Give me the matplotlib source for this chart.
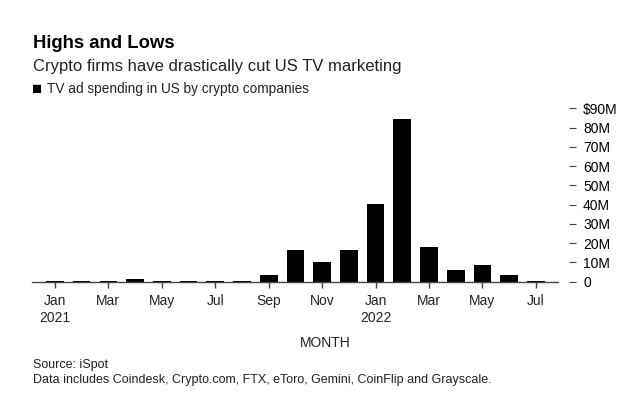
import numpy as np
import matplotlib.pyplot as plt

plt.rcParams['font.family'] = ['Liberation Sans', 'DejaVu Sans']

# monthly TV ad spending, Jan 2021 .. Jul 2022, in $M
months = ['Jan', 'Feb', 'Mar', 'Apr', 'May', 'Jun', 'Jul', 'Aug', 'Sep', 'Oct', 'Nov', 'Dec',
          'Jan', 'Feb', 'Mar', 'Apr', 'May', 'Jun', 'Jul']
years = [2021] * 12 + [2022] * 7
spending = [0.3, 0.3, 0.3, 1.5, 0.3, 0.3, 0.3, 0.4, 3.5, 16.3, 10.4, 16.3,
            40.6, 84.3, 17.8, 6.1, 8.7, 3.5, 0.3]
y_ticks = [0, 10, 20, 30, 40, 50, 60, 70, 80, 90]
y_labels = ['0', '10M', '20M', '30M', '40M', '50M', '60M', '70M', '80M', '$90M']

fig = plt.figure(figsize=(6.4, 4.03), dpi=100)
ax = fig.add_axes([0.0495, 0.301, 0.8225, 0.43])

x = np.arange(len(spending))
ax.bar(x, spending, width=0.66, color='black', zorder=2)

ax.set_xlim(-0.87, 18.83)
ax.set_ylim(0, 90)

# x ticks every other month
xt = x[::2]
xl = []
for i in xt:
    if months[i] == 'Jan':
        xl.append(months[i] + '\n' + str(years[i]))
    else:
        xl.append(months[i])
ax.set_xticks(xt)
ax.set_xticklabels(xl, fontsize=10, color='#222222', linespacing=1.3)
ax.tick_params(axis='x', length=4, width=1, color='#444444', pad=5)

ax.yaxis.tick_right()
ax.set_yticks(y_ticks)
ax.set_yticklabels(y_labels, fontsize=10, color='#222222')
ax.spines['right'].set_position(('outward', 8))
ax.tick_params(axis='y', length=5, width=0.8, color='#444444', pad=5)

for s in ['top', 'left', 'right']:
    ax.spines[s].set_visible(False)
ax.spines['bottom'].set_color('#444444')
ax.spines['bottom'].set_linewidth(1)
ax.spines['bottom'].set_zorder(3)

fig.text(325 / 640, 1 - 343 / 403, 'MONTH', fontsize=10, color='#222222', ha='center', va='center')

fig.text(33 / 640, 1 - 43 / 403, 'Highs and Lows', fontsize=13.3, fontweight='bold', ha='left', va='center')
fig.text(33 / 640, 1 - 66 / 403, 'Crypto firms have drastically cut US TV marketing', fontsize=12,
         color='#222222', ha='left', va='center')
fig.text(32 / 640, 1 - 89 / 403, '\u25A0', fontsize=12, ha='left', va='center')
fig.text(47 / 640, 1 - 89 / 403, 'TV ad spending in US by crypto companies', fontsize=9.8,
         color='#222222', ha='left', va='center')

fig.text(33 / 640, 1 - 365 / 403, 'Source: iSpot', fontsize=9, color='#222222', ha='left', va='center')
fig.text(33 / 640, 1 - 380 / 403, 'Data includes Coindesk, Crypto.com, FTX, eToro, Gemini, CoinFlip and Grayscale.',
         fontsize=9, color='#222222', ha='left', va='center')

fig.savefig('out.png', dpi=100)
